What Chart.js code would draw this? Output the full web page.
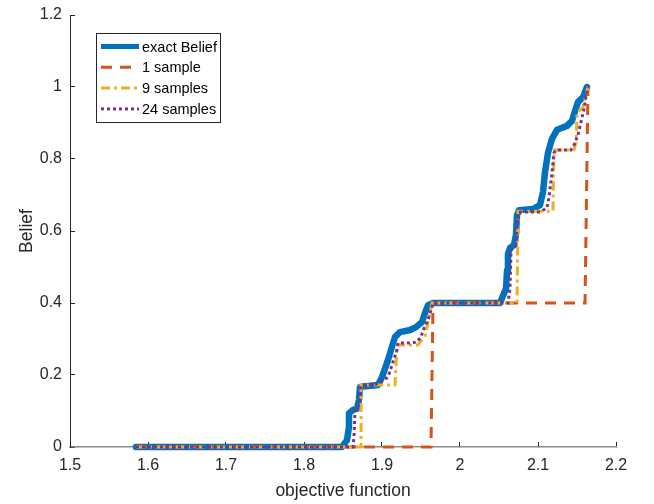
<!DOCTYPE html>
<html>
<head>
<meta charset="utf-8">
<script src="https://cdn.jsdelivr.net/npm/chart.js@4.4.1/dist/chart.umd.min.js"></script>
<style>
    html, body { margin: 0; padding: 0; background: #fff; }
    canvas { display: block; }
</style>
</head>
<body>
<canvas id="beliefChart" width="654" height="504"></canvas>
<script>
// 坐标轴刻度
const xTicks = [1.5, 1.6, 1.7, 1.8, 1.9, 2.0, 2.1, 2.2];
const yTicks = [0, 0.2, 0.4, 0.6, 0.8, 1.0, 1.2];

// 精确 Belief 曲线
const exactX = [1.5846, 1.8487, 1.8551, 1.8577, 1.8577, 1.8628, 1.8679, 1.8705, 1.8718, 1.8795, 1.8949,
    1.9000, 1.9077, 1.9128, 1.9167, 1.9231, 1.9359, 1.9436, 1.9513, 1.9551, 1.9590, 1.9654,
    2.0513, 2.0551, 2.0590, 2.0603, 2.0615, 2.0641, 2.0692, 2.0718, 2.0731, 2.0756, 2.0936,
    2.1026, 2.1064, 2.1090, 2.1128, 2.1179, 2.1244, 2.1372, 2.1436, 2.1474, 2.1513, 2.1577, 2.1628];
const exactY = [0, 0, 0.019, 0.056, 0.094, 0.103, 0.106, 0.131, 0.167, 0.169, 0.172,
    0.194, 0.242, 0.278, 0.306, 0.319, 0.325, 0.333, 0.347, 0.372, 0.394, 0.4,
    0.4, 0.42, 0.44, 0.49, 0.536, 0.553, 0.561, 0.59, 0.644, 0.658, 0.661,
    0.672, 0.708, 0.764, 0.817, 0.856, 0.881, 0.892, 0.906, 0.933, 0.958, 0.972, 1.0];

// 1 个样本
const oneX = [1.5846, 1.9628, 1.9654, 2.1603, 2.1641];
const oneY = [0, 0, 0.4, 0.4, 1.0];

// 9 个样本
const nineX = [1.5846, 1.8731, 1.8731, 1.9167, 1.9192, 1.9462, 1.9487, 1.9551, 1.9590, 1.9615, 1.9641,
    2.0731, 2.0744, 2.1192, 2.1205, 2.1462, 2.1487, 2.1500, 2.1577, 2.1628, 2.1641];
const nineY = [0, 0, 0.172, 0.172, 0.283, 0.283, 0.292, 0.306, 0.347, 0.372, 0.4,
    0.4, 0.655, 0.655, 0.825, 0.825, 0.847, 0.928, 0.944, 0.99, 1.0];

// 24 个样本
const twentyFourX = [1.5846, 1.8628, 1.8641, 1.8654, 1.8692, 1.8718, 1.8731, 1.8949, 1.9000, 1.9077,
    1.9141, 1.9192, 1.9205, 1.9385, 1.9449, 1.9500, 1.9538, 1.9590, 1.9628, 1.9654,
    2.0615, 2.0641, 2.0654, 2.0718, 2.0744, 2.1026, 2.1115, 2.1141, 2.1179, 2.1205,
    2.1231, 2.1423, 2.1462, 2.1513, 2.1551, 2.1590, 2.1628, 2.1641];
const twentyFourY = [0, 0, 0.03, 0.1, 0.11, 0.15, 0.172, 0.175, 0.183, 0.194,
    0.236, 0.27, 0.289, 0.289, 0.292, 0.306, 0.33, 0.353, 0.38, 0.4,
    0.4, 0.44, 0.547, 0.56, 0.653, 0.653, 0.664, 0.694, 0.761, 0.817,
    0.825, 0.825, 0.839, 0.867, 0.903, 0.94, 0.99, 1.0];

const AXIS_COLOR = '#262626';
const FONT_FAMILY = '"Liberation Sans", Arial, Helvetica, sans-serif';

function toPoints(xs, ys) {
    return xs.map((x, i) => ({ x: x, y: ys[i] }));
}

function formatTick(value) {
    return String(Number(value.toFixed(1)));
}

// 带边框的图例，画在绘图区左上角
const boxLegend = {
    id: 'boxLegend',
    afterDraw(chart) {
        const ctx = chart.ctx;
        const left = 96.5, top = 33.5, width = 124, height = 89;
        const rowTop = 46.5, rowGap = 20.8;
        ctx.save();
        ctx.fillStyle = '#ffffff';
        ctx.fillRect(left, top, width, height);
        ctx.strokeStyle = AXIS_COLOR;
        ctx.lineWidth = 1;
        ctx.strokeRect(left, top, width, height);

        chart.data.datasets.forEach((ds, i) => {
            const y = rowTop + i * rowGap;
            ctx.beginPath();
            ctx.strokeStyle = ds.borderColor;
            ctx.lineWidth = Math.min(ds.borderWidth, 5);
            ctx.lineCap = 'butt';
            ctx.setLineDash(ds.borderDash || []);
            ctx.moveTo(101, y);
            ctx.lineTo(139, y);
            ctx.stroke();

            ctx.setLineDash([]);
            ctx.fillStyle = '#000000';
            ctx.font = '14.5px ' + FONT_FAMILY;
            ctx.textBaseline = 'middle';
            ctx.textAlign = 'left';
            ctx.fillText(ds.label, 142, y + 1);
        });
        ctx.restore();
    }
};

function initializeBeliefChart() {
    const ctx = document.getElementById('beliefChart').getContext('2d');
    new Chart(ctx, {
        type: 'line',
        data: {
            datasets: [
                {
                    label: 'exact Belief',
                    data: toPoints(exactX, exactY),
                    borderColor: '#0072BD',
                    borderWidth: 6.5,
                    borderCapStyle: 'round',
                    borderJoinStyle: 'round',
                    order: 4
                },
                {
                    label: '1 sample',
                    data: toPoints(oneX, oneY),
                    borderColor: '#D95319',
                    borderWidth: 3,
                    borderDash: [11, 8],
                    order: 3
                },
                {
                    label: '9 samples',
                    data: toPoints(nineX, nineY),
                    borderColor: '#EDB120',
                    borderWidth: 3,
                    borderDash: [9, 4, 3, 4],
                    order: 2
                },
                {
                    label: '24 samples',
                    data: toPoints(twentyFourX, twentyFourY),
                    borderColor: '#7E2F8E',
                    borderWidth: 3,
                    borderDash: [3, 3],
                    order: 1
                }
            ]
        },
        options: {
            responsive: false,
            animation: false,
            devicePixelRatio: 1,
            layout: {
                padding: { left: 0, right: 38, top: 15, bottom: 0 }
            },
            datasets: {
                line: {
                    pointRadius: 0,
                    fill: false,
                    tension: 0,
                    clip: false
                }
            },
            plugins: {
                legend: { display: false },
                tooltip: { enabled: false }
            },
            scales: {
                x: {
                    type: 'linear',
                    min: 1.5,
                    max: 2.2,
                    afterBuildTicks: function(scale) {
                        scale.ticks = xTicks.map(v => ({ value: v }));
                    },
                    afterFit: function(scale) {
                        scale.height = 57;
                        scale.paddingLeft = 0;
                        scale.paddingRight = 0;
                    },
                    border: {
                        display: true,
                        color: '#8c8c8c',
                        width: 1.5
                    },
                    grid: {
                        drawOnChartArea: false,
                        drawTicks: true,
                        tickLength: -5,
                        color: AXIS_COLOR,
                        lineWidth: 1
                    },
                    ticks: {
                        color: AXIS_COLOR,
                        padding: 14,
                        maxRotation: 0,
                        font: { family: FONT_FAMILY, size: 16 },
                        callback: formatTick
                    },
                    title: {
                        display: true,
                        text: 'objective function',
                        color: AXIS_COLOR,
                        padding: { top: 0, bottom: 2 },
                        font: { family: FONT_FAMILY, size: 17.5 }
                    }
                },
                y: {
                    type: 'linear',
                    min: 0,
                    max: 1.2,
                    afterBuildTicks: function(scale) {
                        scale.ticks = yTicks.map(v => ({ value: v }));
                    },
                    afterFit: function(scale) {
                        scale.width = 70;
                        scale.paddingTop = 0;
                        scale.paddingBottom = 0;
                    },
                    border: {
                        display: true,
                        color: AXIS_COLOR,
                        width: 1
                    },
                    grid: {
                        drawOnChartArea: false,
                        drawTicks: true,
                        tickLength: -5,
                        color: AXIS_COLOR,
                        lineWidth: 1
                    },
                    ticks: {
                        color: AXIS_COLOR,
                        padding: 13,
                        font: { family: FONT_FAMILY, size: 16 },
                        callback: formatTick
                    },
                    title: {
                        display: true,
                        text: 'Belief',
                        color: AXIS_COLOR,
                        padding: { top: 17, bottom: 0 },
                        font: { family: FONT_FAMILY, size: 17.5 }
                    }
                }
            }
        },
        plugins: [boxLegend]
    });
}

document.addEventListener('DOMContentLoaded', function() {
    initializeBeliefChart();
});
</script>
</body>
</html>
